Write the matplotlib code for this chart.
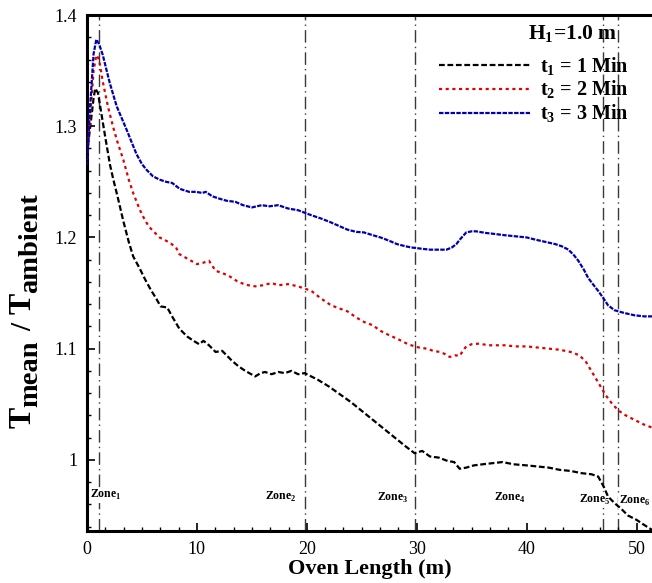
import matplotlib
matplotlib.use("Agg")
import matplotlib.pyplot as plt
from matplotlib.ticker import MultipleLocator
from matplotlib.transforms import IdentityTransform

plt.rcParams['font.family'] = ['Liberation Serif', 'DejaVu Serif']
plt.rcParams['mathtext.fontset'] = 'custom'
plt.rcParams['mathtext.rm'] = 'Liberation Serif'
plt.rcParams['mathtext.bf'] = 'Liberation Serif:bold'

# t1 = 1 Min (black)
black_x = [0, 0.3, 0.6, 0.75, 1.0, 1.3, 1.7, 2.1, 2.4, 2.8, 3.3, 3.8, 4.2, 4.8, 5.3, 5.8,
           6.3, 6.7, 7.3, 7.8, 8.4, 9.1, 9.7, 10.2, 10.6, 11.1, 11.7, 12.3, 12.8, 13.2,
           13.8, 14.4, 15.3, 15.8, 16.2, 16.8, 17.4, 18.0, 18.6, 19.2, 19.8, 20.4, 21.0,
           22.0, 23.0, 24.0, 25.0, 26.0, 27.0, 28.0, 29.0, 29.8, 30.5, 31.2, 32.0, 32.8,
           33.4, 33.9, 34.5, 35.2, 36.0, 36.9, 37.8, 38.8, 40.0, 41.0, 42.0, 43.0, 44.0,
           45.0, 45.9, 46.5, 47.0, 47.4, 48.0, 48.6, 49.2, 50.0, 50.6, 51.4]
black_y = [1.275, 1.300, 1.325, 1.334, 1.330, 1.312, 1.288, 1.265, 1.252, 1.236, 1.215,
           1.196, 1.183, 1.172, 1.162, 1.153, 1.145, 1.138, 1.137, 1.128, 1.118, 1.111,
           1.107, 1.104, 1.107, 1.103, 1.097, 1.098, 1.093, 1.089, 1.084, 1.080, 1.075,
           1.078, 1.079, 1.077, 1.079, 1.078, 1.080, 1.077, 1.078, 1.075, 1.072, 1.066,
           1.059, 1.052, 1.044, 1.036, 1.028, 1.020, 1.012, 1.006, 1.008, 1.003, 1.002,
           0.999, 0.998, 0.992, 0.993, 0.995, 0.996, 0.997, 0.998, 0.996, 0.995, 0.994,
           0.993, 0.991, 0.990, 0.988, 0.987, 0.985, 0.976, 0.967, 0.961, 0.956, 0.950,
           0.946, 0.942, 0.937]

# t2 = 2 Min (red)
red_x = [0, 0.3, 0.6, 0.85, 1.1, 1.44, 1.9, 2.36, 2.8, 3.3, 3.8, 4.2, 4.8, 5.3, 5.7, 6.6,
         7.5, 8.1, 8.4, 9.3, 10.0, 10.5, 11.1, 11.7, 12.3, 12.9, 13.6, 14.4, 15.3, 16.0,
         16.8, 17.4, 18.3, 19.2, 20.4, 21.3, 22.2, 23.0, 23.7, 24.5, 25.2, 26.0, 26.7,
         27.5, 28.2, 29.0, 29.5, 30.2, 30.9, 31.5, 32.1, 32.6, 33.0, 33.5, 33.9, 34.2,
         34.5, 35.0, 35.7, 36.5, 37.2, 38.0, 39.0, 40.0, 41.0, 42.0, 43.0, 44.0, 44.8,
         45.4, 46.0, 46.6, 47.2, 47.8, 48.4, 49.0, 49.8, 50.6, 51.4]
red_y = [1.270, 1.310, 1.350, 1.364, 1.360, 1.340, 1.318, 1.300, 1.285, 1.270, 1.252,
         1.240, 1.225, 1.215, 1.209, 1.200, 1.1955, 1.191, 1.185, 1.180, 1.176, 1.177,
         1.179, 1.170, 1.168, 1.1655, 1.161, 1.1575, 1.156, 1.157, 1.159, 1.157, 1.158,
         1.156, 1.152, 1.145, 1.139, 1.136, 1.1335, 1.128, 1.124, 1.121, 1.116, 1.112,
         1.109, 1.105, 1.103, 1.101, 1.100, 1.098, 1.097, 1.095, 1.0925, 1.094, 1.0935,
         1.098, 1.102, 1.104, 1.1045, 1.103, 1.103, 1.103, 1.102, 1.102, 1.101, 1.100,
         1.099, 1.097, 1.094, 1.088, 1.078, 1.068, 1.058, 1.050, 1.044, 1.040, 1.036,
         1.032, 1.029]

# t3 = 3 Min (blue)
blue_x = [0, 0.3, 0.6, 0.85, 1.1, 1.44, 2.07, 2.7, 3.6, 4.5, 5.0, 5.4, 6.0, 6.6, 7.2,
          7.75, 8.4, 8.65, 9.3, 9.9, 10.5, 10.8, 11.4, 12.0, 12.7, 13.5, 14.2, 15.0,
          15.9, 16.6, 17.4, 18.3, 19.2, 20.4, 21.3, 22.2, 23.0, 23.7, 24.5, 25.2, 26.0,
          26.7, 27.5, 28.2, 29.0, 29.5, 30.3, 31.2, 32.0, 32.7, 33.2, 33.6, 34.0, 34.5,
          35.0, 35.4, 36.3, 37.2, 38.0, 39.0, 40.0, 40.8, 41.7, 42.6, 43.2, 43.8, 44.3,
          44.7, 45.2, 45.6, 46.1, 46.5, 47.0, 47.4, 48.0, 48.9, 49.8, 50.7, 51.4]
blue_y = [1.265, 1.320, 1.365, 1.378, 1.374, 1.364, 1.339, 1.318, 1.297, 1.275, 1.266,
          1.261, 1.255, 1.252, 1.250, 1.249, 1.244, 1.243, 1.241, 1.241, 1.240, 1.241,
          1.237, 1.235, 1.233, 1.232, 1.229, 1.227, 1.229, 1.228, 1.229, 1.226, 1.2245,
          1.220, 1.217, 1.2135, 1.210, 1.207, 1.205, 1.2045, 1.202, 1.200, 1.197, 1.194,
          1.192, 1.191, 1.190, 1.189, 1.189, 1.189, 1.191, 1.194, 1.199, 1.2045, 1.2055,
          1.2055, 1.204, 1.203, 1.202, 1.201, 1.200, 1.198, 1.196, 1.194, 1.192, 1.189,
          1.184, 1.179, 1.171, 1.1635, 1.157, 1.152, 1.145, 1.139, 1.1345, 1.132, 1.130,
          1.129, 1.129]

zone_lines = [1.1, 19.8, 29.8, 46.9, 48.3]
zone_names = ['Zone$_\\mathbf{1}$', 'Zone$_\\mathbf{2}$', 'Zone$_\\mathbf{3}$',
              'Zone$_\\mathbf{4}$', 'Zone$_\\mathbf{5}$', 'Zone$_\\mathbf{6}$']
zone_label_x = [1.7, 17.6, 27.8, 38.5, 46.2, 49.8]
zone_label_y = [0.968, 0.967, 0.966, 0.966, 0.964, 0.963]

# y label pieces: big T, subscripts a bit smaller
ylab_parts = ['T', 'mean', '/', 'T', 'ambient']
ylab_sizes = [23, 20.5, 21, 23, 20.5]

fig = plt.figure(figsize=(6.52, 5.83), dpi=100)
ax = fig.add_axes([0.1334, 0.0892, 0.8666, 0.885])

for xz in zone_lines:
    ax.axvline(xz, color='#3a3a3a', lw=1.0, dashes=(9, 3, 1, 3), zorder=1)

for xt, yt, name in zip(zone_label_x, zone_label_y, zone_names):
    ax.text(xt, yt, name, ha='center', va='center', fontsize=8.5, fontweight='bold',
            bbox=dict(fc='white', ec='none', pad=0.5), zorder=2)

ax.plot(black_x, black_y, color='black', lw=1.6, dashes=(2.6, 1.2), label='t$_\\mathbf{1}$ = 1 Min', zorder=3)
ax.plot(red_x, red_y, color='#e00000', lw=1.6, dashes=(1.4, 1.6), label='t$_\\mathbf{2}$ = 2 Min', zorder=3)
ax.plot(blue_x, blue_y, color='#0000b0', lw=1.6, dashes=(2.0, 0.6), label='t$_\\mathbf{3}$ = 3 Min', zorder=3)

ax.set_xlim(0, 51.4)
ax.set_ylim(0.936, 1.4)
ax.xaxis.set_major_locator(MultipleLocator(10))
ax.xaxis.set_minor_locator(MultipleLocator(10 / 6))
ax.yaxis.set_major_locator(MultipleLocator(0.1))
ax.yaxis.set_minor_locator(MultipleLocator(0.02))
ax.yaxis.set_major_formatter(plt.FuncFormatter(lambda v, p: '1' if abs(v - 1) < 1e-6 else '%.1f' % v))
ax.tick_params(which='both', direction='in', top=False, right=False, labelsize=13, pad=7)
ax.tick_params(which='major', length=6, width=1.2)
ax.tick_params(which='minor', length=3, width=1.0)
for s in ['left', 'bottom', 'top']:
    ax.spines[s].set_linewidth(2.2)
ax.spines['right'].set_visible(False)

ax.set_xlabel('Oven Length (m)', fontsize=16, fontweight='bold', labelpad=1)

# y label built piece by piece (subscripts larger than mathtext allows)
renderer = fig.canvas.get_renderer()
pos = 155
for i, (part, fs) in enumerate(zip(ylab_parts, ylab_sizes)):
    shift = 6 if part in ('mean', 'ambient') else 0
    if part == '/' or (part == 'T' and i > 0):
        pos += 9
    t = fig.text(31 + shift, pos, part, rotation=90, rotation_mode='anchor',
                 ha='left', va='baseline', fontsize=fs, fontweight='bold',
                 transform=IdentityTransform())
    pos = t.get_window_extent(renderer).y1

ax.text(0.860, 0.963, 'H$_\\mathbf{1}$=1.0 m', transform=ax.transAxes, ha='center', va='center',
        fontsize=15.5, fontweight='bold')
leg = ax.legend(loc='upper right', bbox_to_anchor=(0.99, 0.957), frameon=False,
                prop={'weight': 'bold', 'size': 14.5}, handlelength=4.5,
                handletextpad=0.5, labelspacing=0.075)

fig.savefig('out.png', dpi=100)
